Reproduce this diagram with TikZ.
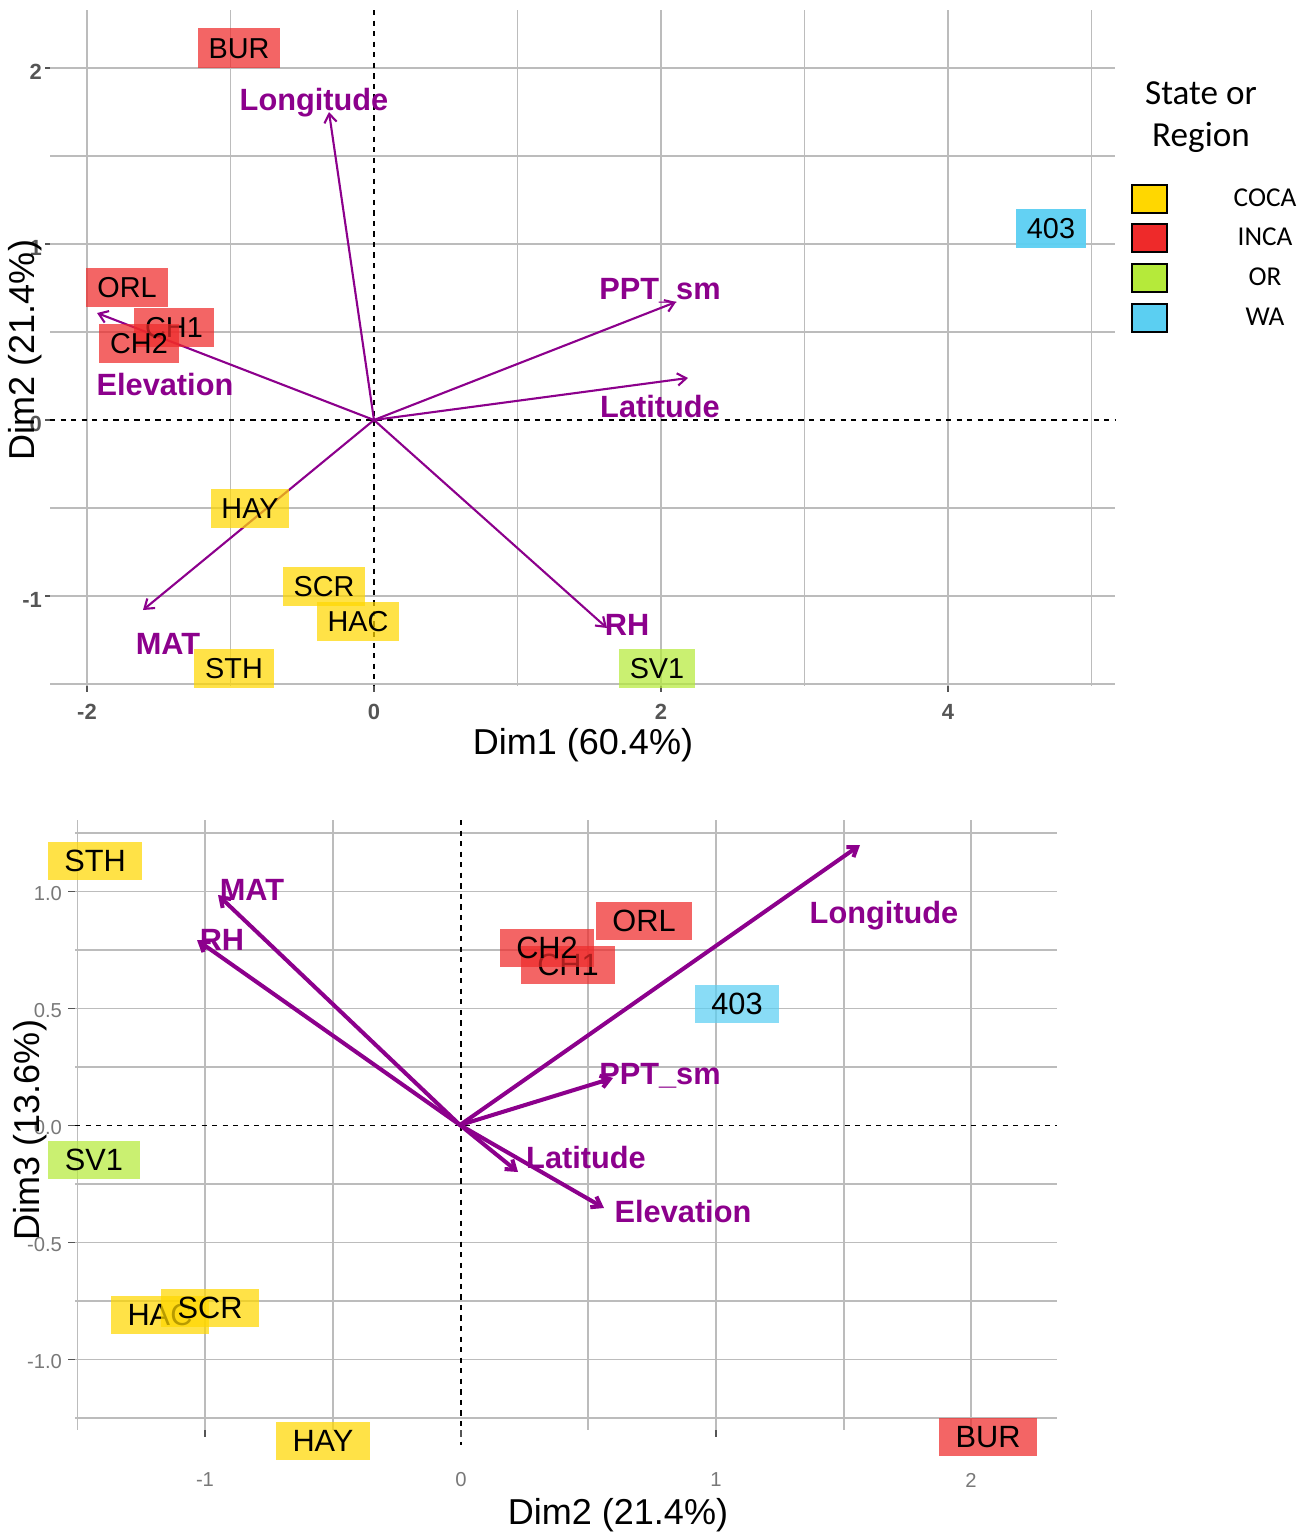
\documentclass[tikz,border=0pt]{standalone}
\usepackage{fontspec}
\setmainfont{Liberation Sans}
\newfontfamily\legendfont{Carlito}
\usetikzlibrary{arrows.meta}

\definecolor{vecpurple}{RGB}{140,0,140}
\definecolor{gridgray}{RGB}{188,188,188}
\definecolor{tickgray}{RGB}{85,85,85}
\definecolor{ticklight}{RGB}{120,120,120}
\definecolor{coca}{RGB}{255,215,0}
\definecolor{inca}{RGB}{238,42,42}
\definecolor{oregon}{RGB}{181,234,58}
\definecolor{wash}{RGB}{91,207,242}

\newcommand\sitesizeA{\fontsize{16.4}{19}\selectfont}
\newcommand\sitesizeB{\fontsize{17.5}{20}\selectfont}
\newcommand\vecsize{\fontsize{17.5}{20}\selectfont\bfseries}
\newcommand\titlesize{\fontsize{20.5}{24}\selectfont}

\tikzset{
  gridline/.style={gridgray, line width=1.1pt},
  zeroline/.style={black, line width=0.9pt, dash pattern=on 3pt off 3pt},
  tickmark/.style={tickgray, line width=1pt},
  loadingA/.style={vecpurple, line width=1.2pt, -{Straight Barb[length=5pt,width=7pt]}},
  loadingB/.style={vecpurple, line width=2.3pt, -{Straight Barb[length=5pt,width=7pt]}},
  veclabel/.style={vecpurple, font=\vecsize, inner sep=0pt, text height=12.5pt, text depth=0pt},
  siteA/.style={fill opacity=0.72, text opacity=1, font=\sitesizeA, inner xsep=6.2pt,
    inner ysep=5.2pt, text height=11.8pt, text depth=0pt},
  siteB/.style={fill opacity=0.72, text opacity=1, font=\sitesizeB, inner xsep=9.5pt,
    inner ysep=4.8pt, text height=12.5pt, text depth=0pt},
  legkey/.style={draw=black, line width=1.3pt, minimum width=20pt, minimum height=16pt, inner sep=0pt},
}

\begin{document}
\begin{tikzpicture}[x=0.02cm, y=-0.02cm]
  \useasboundingbox (0,0) rectangle (1312,1535);

  %%%%% TOP: Dim1 / Dim2 %%%%%
  \foreach \gx in {87,230.5,517.5,661,804.5,948,1091.5}
    \draw[gridline] (\gx,10) -- (\gx,686);
  \foreach \gy in {68,156,244,332,508,596,684}
    \draw[gridline] (50,\gy) -- (1115,\gy);
  \draw[zeroline] (374,10) -- (374,690);
  \draw[zeroline] (50,420) -- (1115,420);

  \foreach \gy/\lab in {68/2,244/1,420/0,596/-1}{
    \draw[tickmark] (45,\gy) -- (50,\gy);
    \node[anchor=east, tickgray, font=\fontsize{12.5}{14}\selectfont\bfseries, inner sep=1pt] at (44,\gy+4) {\lab};
  }
  \foreach \gx/\lab in {87/-2,374/0,661/2,948/4}{
    \draw[tickmark] (\gx,686) -- (\gx,692);
    \node[tickgray, font=\fontsize{12.5}{14}\selectfont\bfseries] at (\gx,712) {\lab};
  }

  \coordinate (topO) at (374,420);
  \coordinate (topLon) at (329,112);
  \coordinate (topEle) at (97,313);
  \coordinate (topPPT) at (676,302);
  \coordinate (topLat) at (688,378);
  \coordinate (topRH) at (607,628);
  \coordinate (topMAT) at (143,610);
  \foreach \tip in {topLon,topEle,topPPT,topLat,topRH,topMAT}
    \draw[loadingA] (topO) -- (\tip);

  \node[siteA, fill=inca] (tBUR) at (239,48) {BUR};
  \node[siteA, fill=inca] (tORL) at (127,287) {ORL};
  \node[siteA, fill=inca] (tCH1) at (174,327) {CH1};
  \node[siteA, fill=inca] (tCH2) at (139,343) {CH2};
  \node[siteA, fill=wash, fill opacity=0.95] (t403) at (1051,228) {403};
  \node[siteA, fill=coca] (tHAY) at (250,508) {HAY};
  \node[siteA, fill=coca] (tSCR) at (324,586) {SCR};
  \node[siteA, fill=coca] (tHAC) at (358,621) {HAC};
  \node[siteA, fill=coca] (tSTH) at (234,668) {STH};
  \node[siteA, fill=oregon] (tSV1) at (657,668) {SV1};

  \node[veclabel] (tLonLab) at (314,100) {Longitude};
  \node[veclabel] (tEleLab) at (165,385) {Elevation};
  \node[veclabel] (tPPTLab) at (660,289) {PPT\_sm};
  \node[veclabel] (tLatLab) at (660,407) {Latitude};
  \node[veclabel] (tRHLab) at (627,625) {RH};
  \node[veclabel] (tMATLab) at (168,644) {MAT};

  \node[font=\titlesize] (tXtitle) at (583,745) {Dim1 (60.4\%)};
  \node[font=\titlesize, rotate=90] (tYtitle) at (25,350) {Dim2 (21.4\%)};

  % legend
  \node[font=\legendfont\fontsize{20}{24}\selectfont, align=center] (legTitle) at (1201,117) {State or\\Region};
  \foreach \key/\lab/\yy in {coca/COCA/199,inca/INCA/238,oregon/OR/278,wash/WA/318}{
    \node[legkey, fill=\key] (key\lab) at (1149.5,\yy) {};
    \node[font=\legendfont\fontsize{15.5}{18}\selectfont] (leg\lab) at (1265,\yy-1) {\lab};
  }

  %%%%% BOTTOM: Dim2 / Dim3 %%%%%
  \foreach \gx in {77.5,205,333,588,716,844,971}
    \draw[gridline] (\gx,820) -- (\gx,1430);
  \foreach \gy in {833,891.5,950,1008.5,1067,1184,1242.5,1301,1359.5,1418}
    \draw[gridline] (75,\gy) -- (1057,\gy);
  \draw[zeroline] (461,820) -- (461,1445);
  \draw[zeroline] (75,1125.5) -- (1057,1125.5);

  \foreach \gy/\lab in {891.5/1.0,1008.5/0.5,1125.5/0.0,1242.5/-0.5,1359.5/-1.0}{
    \draw[tickmark] (68,\gy) -- (75,\gy);
    \node[anchor=east, ticklight, font=\fontsize{11.5}{13}\selectfont, inner sep=1pt] at (64,\gy+2) {\lab};
  }
  \foreach \gx/\lab in {205/-1,461/0,716/1,971/2}{
    \draw[tickmark] (\gx,1430) -- (\gx,1437);
    \node[ticklight, font=\fontsize{11.5}{13}\selectfont] at (\gx,1480) {\lab};
  }

  \coordinate (botO) at (460,1125);
  \coordinate (botMAT) at (218,895);
  \coordinate (botRH) at (197,940);
  \coordinate (botLon) at (860,845);
  \coordinate (botPPT) at (613,1078);
  \coordinate (botLat) at (518,1172);
  \coordinate (botEle) at (604,1208);
  \foreach \tip in {botMAT,botRH,botLon,botPPT,botLat,botEle}
    \draw[loadingB] (botO) -- (\tip);

  \node[siteB, fill=coca] (bSTH) at (95,861) {STH};
  \node[siteB, fill=oregon] (bSV1) at (94,1160) {SV1};
  \node[siteB, fill=coca] (bHAC) at (160,1315) {HAC};
  \node[siteB, fill=coca] (bSCR) at (210,1308) {SCR};
  \node[siteB, fill=coca] (bHAY) at (323,1441) {HAY};
  \node[siteB, fill=inca] (bORL) at (644,921) {ORL};
  \node[siteB, fill=inca] (bCH1) at (568,965) {CH1};
  \node[siteB, fill=inca] (bCH2) at (547,948) {CH2};
  \node[siteB, fill=wash] (b403) at (737,1004) {403};
  \node[siteB, fill=inca] (bBUR) at (988,1437) {BUR};

  \node[veclabel] (bMATLab) at (252,890) {MAT};
  \node[veclabel] (bRHLab) at (222,940) {RH};
  \node[veclabel] (bLonLab) at (884,913) {Longitude};
  \node[veclabel] (bPPTLab) at (660,1074) {PPT\_sm};
  \node[veclabel] (bLatLab) at (586,1158) {Latitude};
  \node[veclabel] (bEleLab) at (683,1212) {Elevation};

  \node[font=\titlesize] (bXtitle) at (618,1515) {Dim2 (21.4\%)};
  \node[font=\titlesize, rotate=90] (bYtitle) at (30,1130) {Dim3 (13.6\%)};
\end{tikzpicture}
\end{document}
